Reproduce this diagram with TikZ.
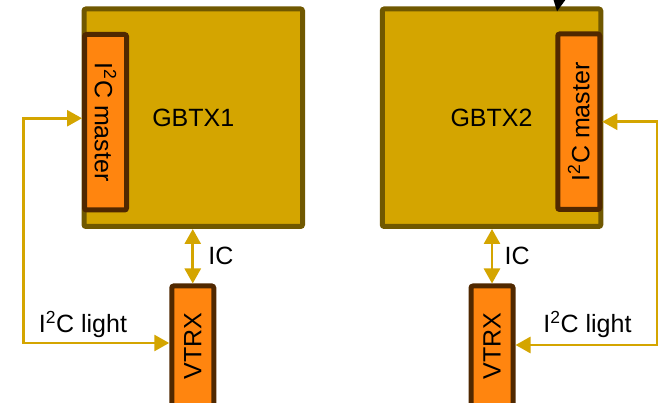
\documentclass[tikz,border=0pt]{standalone}
\usepackage{fontspec}
\setmainfont{Liberation Sans}
\usetikzlibrary{positioning, arrows.meta, calc}
\definecolor{gbtxfill}{RGB}{212,165,0}
\definecolor{gbtxline}{RGB}{112,88,0}
\definecolor{masterfill}{RGB}{255,133,15}
\definecolor{masterline}{RGB}{80,40,0}
\definecolor{linkgold}{RGB}{212,165,0}

\begin{document}
\begin{tikzpicture}[
  x=1pt, y=-1pt,
  every node/.style={font=\fontsize{25}{30}\selectfont, text=black},
  chip/.style={draw=gbtxline, fill=gbtxfill, line width=5pt, rounded corners=2pt, minimum width=218.5pt, minimum height=217.5pt, inner sep=0pt},
  master/.style={draw=masterline, fill=masterfill, line width=5pt, rounded corners=2pt, minimum width=42pt, minimum height=175.5pt, inner sep=0pt},
  vtrx/.style={master, minimum height=120pt},
  arr/.style={{Triangle[length=15pt,width=16pt]}-{Triangle[length=15pt,width=16pt]}, line width=2.7pt, linkgold},
]
  \useasboundingbox (0,0) rectangle (662,403);
  % chips
  \node[chip] (g1) at (193.25,117.75) {GBTX1};
  \node[chip] (g2) at (491.5,117.75) {GBTX2};
  \node[master] (m1) at (105.5,122.25) {\rotatebox{-90}{I\textsuperscript{2}C master}};
  \node[master] (m2) at (578.75,121.75) {\rotatebox{90}{I\textsuperscript{2}C master}};
  \node[vtrx] (v1) at (192.75,346) {\rotatebox{90}{VTRX}};
  \node[vtrx] (v2) at (492,346) {\rotatebox{90}{VTRX}};
  % links
  \draw[arr] (v1.north |- g1.south) -- node[right=11pt]{IC} (v1.north);
  \draw[arr] (v2.north |- g2.south) -- node[right=8pt]{IC} (v2.north);
  \draw[arr] ([yshift=3pt]v1.west) -- ++(-146,0) |- ([yshift=4pt]m1.west);
  \draw[arr] ([yshift=1pt]v2.east) -- ++(141.5,0) |- (m2.east);
  \node[anchor=base] (l1) at (83,333) {I\textsuperscript{2}C light};
  \node[anchor=base] (l2) at (587.5,333) {I\textsuperscript{2}C light};
  % incoming from above
  \coordinate (ext) at (564,-30);
  \draw[-{Triangle[length=16pt,width=15pt]}, line width=3pt] (ext) -- ([xshift=65.5pt,yshift=-5pt]g2.north);
\end{tikzpicture}
\end{document}
